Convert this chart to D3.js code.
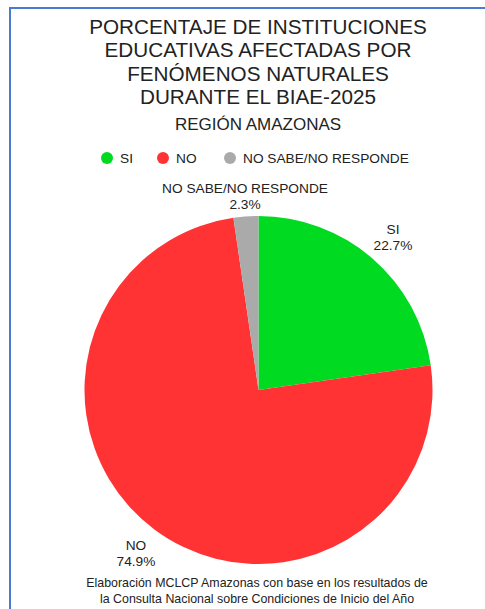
<!DOCTYPE html>
<html>
<head>
<meta charset="utf-8">
<script src="https://cdn.jsdelivr.net/npm/d3@7"></script>
<style>
  html, body { margin: 0; padding: 0; background: #fff; overflow: hidden; }
  svg { display: block; font-family: "Liberation Sans", Arial, sans-serif; }
</style>
</head>
<body>
<div id="chart"></div>
<script>
// Pie chart: schools affected by natural phenomena, Amazonas
const categories = ['SI', 'NO', 'NO SABE/NO RESPONDE'];
const percents = [22.7, 74.9, 2.3];
const colors = ['#00db22', '#ff3333', '#aaaaaa'];
const titleLines = [
  'PORCENTAJE DE INSTITUCIONES',
  'EDUCATIVAS AFECTADAS POR',
  'FENÓMENOS NATURALES',
  'DURANTE EL BIAE-2025'
];
const subtitle = 'REGIÓN AMAZONAS';
const footerLines = [
  'Elaboración MCLCP Amazonas con base en los resultados de',
  'la Consulta Nacional sobre Condiciones de Inicio del Año',
  'Escolar 2025'
];

const width = 485, height = 609;
const cx = 258.5, cy = 390, radius = 174;

const svg = d3.select('#chart').append('svg')
  .attr('width', width)
  .attr('height', height);

// frame (left and top edges visible)
svg.append('rect')
  .attr('x', 10).attr('y', 8)
  .attr('width', 500).attr('height', 700)
  .attr('fill', 'none')
  .attr('stroke', '#4a7bd0')
  .attr('stroke-width', 2);

// title
svg.append('g').selectAll('text')
  .data(titleLines)
  .enter().append('text')
  .attr('x', 258)
  .attr('y', (d, i) => 34 + i * 23.3)
  .attr('text-anchor', 'middle')
  .attr('font-size', 20.7)
  .attr('fill', '#222')
  .text(d => d);

svg.append('text')
  .attr('x', 258).attr('y', 129.5)
  .attr('text-anchor', 'middle')
  .attr('font-size', 17)
  .attr('fill', '#222')
  .text(subtitle);

// legend
const legendX = [107, 163, 230];
const legend = svg.append('g').selectAll('g')
  .data(categories)
  .enter().append('g')
  .attr('transform', (d, i) => `translate(${legendX[i]},158)`);
legend.append('circle')
  .attr('r', 6)
  .attr('fill', (d, i) => colors[i]);
legend.append('text')
  .attr('x', 13).attr('y', 5)
  .attr('font-size', 13.7)
  .attr('fill', '#222')
  .text(d => d);

// pie
const data = categories.map((c, i) => ({ name: c, value: percents[i], color: colors[i] }));
const pie = d3.pie().sort(null).value(d => d.value);
const arc = d3.arc().innerRadius(0).outerRadius(radius);
const arcs = pie(data);

const g = svg.append('g').attr('transform', `translate(${cx},${cy})`);
g.selectAll('path')
  .data(arcs)
  .enter().append('path')
  .attr('d', arc)
  .attr('fill', d => d.data.color);

// slice labels
const labelPos = [[393, 234], [136, 550], [245, 193]];
const labels = svg.append('g').selectAll('text')
  .data(arcs)
  .enter().append('text')
  .attr('text-anchor', 'middle')
  .attr('font-size', 13.7)
  .attr('fill', '#222');
labels.append('tspan')
  .attr('x', (d, i) => labelPos[i][0])
  .attr('y', (d, i) => labelPos[i][1])
  .text(d => d.data.name);
labels.append('tspan')
  .attr('x', (d, i) => labelPos[i][0])
  .attr('y', (d, i) => labelPos[i][1] + 15.5)
  .text(d => d.data.value.toFixed(1) + '%');

// footer
svg.append('g').selectAll('text')
  .data(footerLines)
  .enter().append('text')
  .attr('x', 257)
  .attr('y', (d, i) => 587 + i * 16)
  .attr('text-anchor', 'middle')
  .attr('font-size', 12.4)
  .attr('fill', '#222')
  .text(d => d);
</script>
</body>
</html>
